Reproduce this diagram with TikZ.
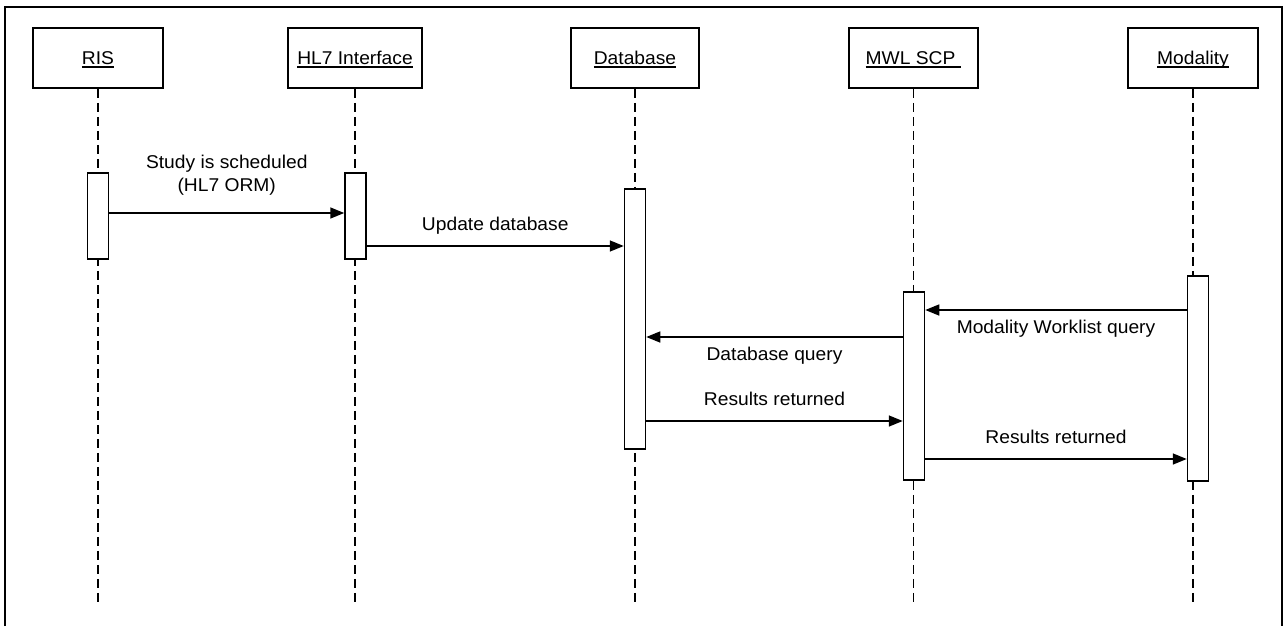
\documentclass[tikz,border=0pt]{standalone}
\usepackage{fontspec}
\setmainfont{Liberation Sans}[FakeStretch=1.04]
\usetikzlibrary{arrows.meta}
\newcommand{\hdul}[1]{\leavevmode\setbox0\hbox{#1}\rlap{\rule[-3pt]{\wd0}{1.5pt}}\box0}
\begin{document}
\begin{tikzpicture}[x=1pt,y=-1pt,
  every node/.style={font=\fontsize{18.5}{23}\selectfont, inner sep=0pt},
  hdr/.style={draw, line width=1.5pt, minimum width=130pt, minimum height=60pt, text height=13pt, text depth=0pt},
  act/.style={draw, fill=white, line width=1.5pt, minimum width=21pt},
  life/.style={line width=1.3pt, dash pattern=on 9pt off 5pt},
  msg/.style={line width=1.5pt, -{Triangle[length=14pt,width=11pt]}},
  above lbl/.style={anchor=base, yshift=16pt},
  below lbl/.style={anchor=base, yshift=-23pt}]
\useasboundingbox (0,0) rectangle (1284,626);
\draw[line width=1.5pt] (5,626) -- (5,7) -- (1282,7) -- (1282,626);
% headers
\node[hdr] (ris) at (98,58) {\hdul{RIS}};
\node[hdr, minimum width=134pt] (hl7) at (355,58) {\hdul{HL7 Interface}};
\node[hdr, minimum width=128pt] (db) at (635,58) {\hdul{Database}};
\node[hdr, minimum width=129pt] (mwl) at (913.5,58) {\hdul{MWL SCP\kern6pt}};
\node[hdr] (mod) at (1193,58) {\hdul{Modality}};
% lifeline ends
\coordinate (risE) at (98,603);
\coordinate (hl7E) at (355,603);
\coordinate (dbE) at (635,603);
\coordinate (mwlE) at (913.5,603);
\coordinate (modE) at (1193,603);
\draw[life] (ris.south) -- (risE);
\draw[life] (hl7.south) -- (hl7E);
\draw[life] (db.south) -- (dbE);
\draw[life] (mwl.south) -- (mwlE);
\draw[life] (mod.south) -- (modE);
% activations
\node[act, minimum height=86pt] (risA) at (98,216) {};
\node[act, minimum height=86pt] (hl7A) at (355.5,216) {};
\node[act, minimum height=260pt] (dbA) at (635,319) {};
\node[act, minimum height=188pt] (mwlA) at (914,386) {};
\node[act, minimum height=205pt] (modA) at (1198,378.5) {};
% messages
\draw[msg] (risA.east |- 0,213) -- node[anchor=south, align=center, yshift=17pt] {Study is scheduled\\(HL7 ORM)} (hl7A.west |- 0,213);
\draw[msg] (hl7A.east |- 0,246) -- node[above lbl] {Update database} (dbA.west |- 0,246);
\draw[msg] (modA.west |- 0,310) -- node[below lbl] {Modality Worklist query} (mwlA.east |- 0,310);
\draw[msg] (mwlA.west |- 0,337) -- node[below lbl] {Database query} (dbA.east |- 0,337);
\draw[msg] (dbA.east |- 0,421) -- node[above lbl] {Results returned} (mwlA.west |- 0,421);
\draw[msg] (mwlA.east |- 0,459) -- node[above lbl] {Results returned} (modA.west |- 0,459);
\end{tikzpicture}
\end{document}
